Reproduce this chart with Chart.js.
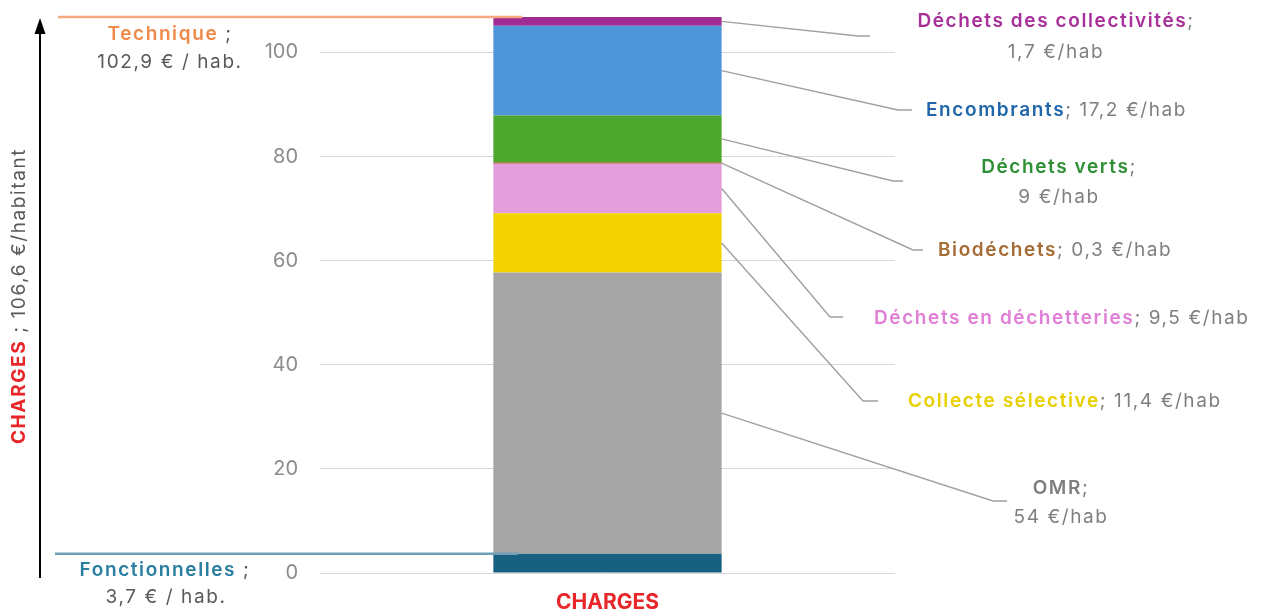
<!DOCTYPE html>
<html lang="fr">
<head>
  <meta charset="UTF-8" />
  <title>Charges par habitant</title>
  <script src="https://cdn.jsdelivr.net/npm/chart.js"></script>
  <style>
    html, body { margin: 0; padding: 0; background: #fff; }
    canvas { display: block; }
  </style>
</head>
<body>
  <canvas id="chargesChart" width="1265" height="612"></canvas>

  <script>
    // Données
    const categories = ['CHARGES'];
    const segmentNames = ['Fonctionnelles', 'OMR', 'Collecte sélective', 'Déchets en déchetteries',
      'Biodéchets', 'Déchets verts', 'Encombrants', 'Déchets des collectivités'];
    const segmentValues = [3.7, 54, 11.4, 9.5, 0.3, 9, 17.2, 1.7];
    const segmentLabels = ['3,7 €/hab', '54 €/hab', '11,4 €/hab', '9,5 €/hab',
      '0,3 €/hab', '9 €/hab', '17,2 €/hab', '1,7 €/hab'];
    const yTicks = [0, 20, 40, 60, 80, 100];
    const technique = 102.9;
    const fonctionnelles = 3.7;
    const totalCharges = 106.6;

    const barColors = ['#17607f', '#a5a5a5', '#f2d300', '#e49edd', '#a0662f', '#4ea72e', '#4e95d9', '#a02b93'];
    const textColors = ['#2a7fa0', '#7f7f7f', '#e8cf00', '#e07fd6', '#a66c36', '#2f8f34', '#2166a8', '#a8309a'];
    const grey = '#7f7f7f';
    const FONT = 'Inter, "Noto Sans", sans-serif';
    const SPACING = '1.6px';

    // mise en page des étiquettes (coude de la ligne, fin, texte)
    // 'inline' : nom ; valeur sur une ligne, 'stack' : deux lignes centrées
    const labelLayout = [
      null,
      { ex: 993, ey: 501, tx: 1007, mode: 'stack', cx: 1061, y1: 488, y2: 517 },
      { ex: 863, ey: 401, tx: 878, mode: 'inline', x: 908, y: 401 },
      { ex: 830, ey: 317, tx: 843, mode: 'inline', x: 874, y: 318 },
      { ex: 913, ey: 250, tx: 923, mode: 'inline', x: 938, y: 250 },
      { ex: 893, ey: 181, tx: 903, mode: 'stack', cx: 1059, y1: 167, y2: 197 },
      { ex: 898, ey: 110, tx: 912, mode: 'inline', x: 926, y: 110 },
      { ex: 858, ey: 36, tx: 870, mode: 'stack', cx: 1056, y1: 21, y2: 52 }
    ];

    function drawInline(ctx, x, y, parts) {
      let cx = x;
      parts.forEach(p => {
        ctx.font = p.font;
        ctx.fillStyle = p.color;
        ctx.textAlign = 'left';
        ctx.fillText(p.text, cx, y);
        cx += ctx.measureText(p.text).width;
      });
    }

    function drawCentered(ctx, cx, y, parts) {
      let w = 0;
      parts.forEach(p => { ctx.font = p.font; w += ctx.measureText(p.text).width; });
      drawInline(ctx, cx - w / 2, y, parts);
    }

    const bold = '600 19px ' + FONT;
    const normal = '400 19px ' + FONT;

    const annotations = {
      id: 'annotations',
      afterDatasetsDraw(chart) {
        const ctx = chart.ctx;
        const y = chart.scales.y;
        const meta0 = chart.getDatasetMeta(0).data[0];
        const barRight = meta0.x + meta0.width / 2;
        ctx.save();
        ctx.textBaseline = 'middle';
        ctx.letterSpacing = SPACING;

        // lignes de repère à droite
        let base = 0;
        segmentValues.forEach((v, i) => {
          const mid = base + v / 2;
          base += v;
          const L = labelLayout[i];
          if (!L) return;
          const sy = y.getPixelForValue(mid);
          ctx.strokeStyle = '#a0a0a0';
          ctx.lineWidth = 1.4;
          ctx.beginPath();
          ctx.moveTo(barRight, sy);
          ctx.lineTo(L.ex, L.ey);
          ctx.lineTo(L.tx, L.ey);
          ctx.stroke();

          if (L.mode === 'inline') {
            drawInline(ctx, L.x, L.y, [
              { text: segmentNames[i], font: bold, color: textColors[i] },
              { text: '; ' + segmentLabels[i], font: normal, color: grey }
            ]);
          } else {
            drawCentered(ctx, L.cx, L.y1, [
              { text: segmentNames[i], font: bold, color: textColors[i] },
              { text: ';', font: normal, color: grey }
            ]);
            drawCentered(ctx, L.cx, L.y2, [
              { text: segmentLabels[i], font: normal, color: grey }
            ]);
          }
        });

        // Technique / Fonctionnelles
        const total = segmentValues.reduce((a, b) => a + b, 0);
        const yTop = y.getPixelForValue(total);
        const yFonc = y.getPixelForValue(fonctionnelles);
        ctx.lineWidth = 2.5;
        ctx.strokeStyle = '#f4a97f';
        ctx.beginPath(); ctx.moveTo(58, yTop); ctx.lineTo(522, yTop); ctx.stroke();
        ctx.strokeStyle = '#6f9fb8';
        ctx.beginPath(); ctx.moveTo(55, yFonc); ctx.lineTo(518, yFonc); ctx.stroke();

        drawCentered(ctx, 170, 34, [
          { text: 'Technique', font: bold, color: '#f08a4b' },
          { text: ' ;', font: normal, color: '#595959' }
        ]);
        drawCentered(ctx, 170, 62, [
          { text: technique.toString().replace('.', ',') + ' € / hab.', font: normal, color: '#595959' }
        ]);
        drawCentered(ctx, 165, 570, [
          { text: 'Fonctionnelles', font: bold, color: '#2a7fa0' },
          { text: ' ;', font: normal, color: '#595959' }
        ]);
        drawCentered(ctx, 166, 597, [
          { text: fonctionnelles.toString().replace('.', ',') + ' € / hab.', font: normal, color: '#595959' }
        ]);

        // flèche verticale
        ctx.strokeStyle = '#000';
        ctx.fillStyle = '#000';
        ctx.lineWidth = 2;
        ctx.beginPath(); ctx.moveTo(40, 578); ctx.lineTo(40, 30); ctx.stroke();
        ctx.beginPath(); ctx.moveTo(40, 18); ctx.lineTo(34.5, 34); ctx.lineTo(45.5, 34); ctx.closePath(); ctx.fill();

        // titre vertical
        ctx.translate(19, 296);
        ctx.rotate(-Math.PI / 2);
        drawCentered(ctx, 0, 0, [
          { text: 'CHARGES', font: '700 19px ' + FONT, color: '#e8262a' },
          { text: ' ; ' + totalCharges.toString().replace('.', ',') + ' €/habitant', font: normal, color: '#595959' }
        ]);
        ctx.restore();
      }
    };

    new Chart(document.getElementById('chargesChart'), {
      type: 'bar',
      data: {
        labels: categories,
        datasets: segmentNames.map((name, i) => ({
          label: name,
          data: [segmentValues[i]],
          backgroundColor: barColors[i],
          borderWidth: 0,
          barPercentage: 0.397,
          categoryPercentage: 1
        }))
      },
      options: {
        responsive: false,
        animation: false,
        devicePixelRatio: 1,
        layout: { padding: { left: 0, right: 370, top: 17, bottom: 0 } },
        plugins: { legend: { display: false }, tooltip: { enabled: false } },
        scales: {
          x: {
            stacked: true,
            grid: { display: false, drawTicks: false },
            border: { display: false },
            ticks: { color: '#e8262a', font: { family: FONT, size: 21, weight: '700' }, padding: 17 },
            afterFit(scale) { scale.height = 39; scale.paddingLeft = 0; scale.paddingRight = 0; }
          },
          y: {
            stacked: true,
            min: 0,
            max: segmentValues.reduce((a, b) => a + b, 0),
            border: { display: false },
            grid: { color: '#d9d9d9', lineWidth: 1, drawTicks: false },
            ticks: { color: '#8c8c8c', font: { family: FONT, size: 20 }, padding: 22, stepSize: 20 },
            afterBuildTicks(axis) { axis.ticks = yTicks.map(v => ({ value: v })); },
            afterFit(scale) { scale.width = 320; scale.paddingTop = 0; scale.paddingBottom = 0; }
          }
        }
      },
      plugins: [annotations]
    });
  </script>
</body>
</html>
